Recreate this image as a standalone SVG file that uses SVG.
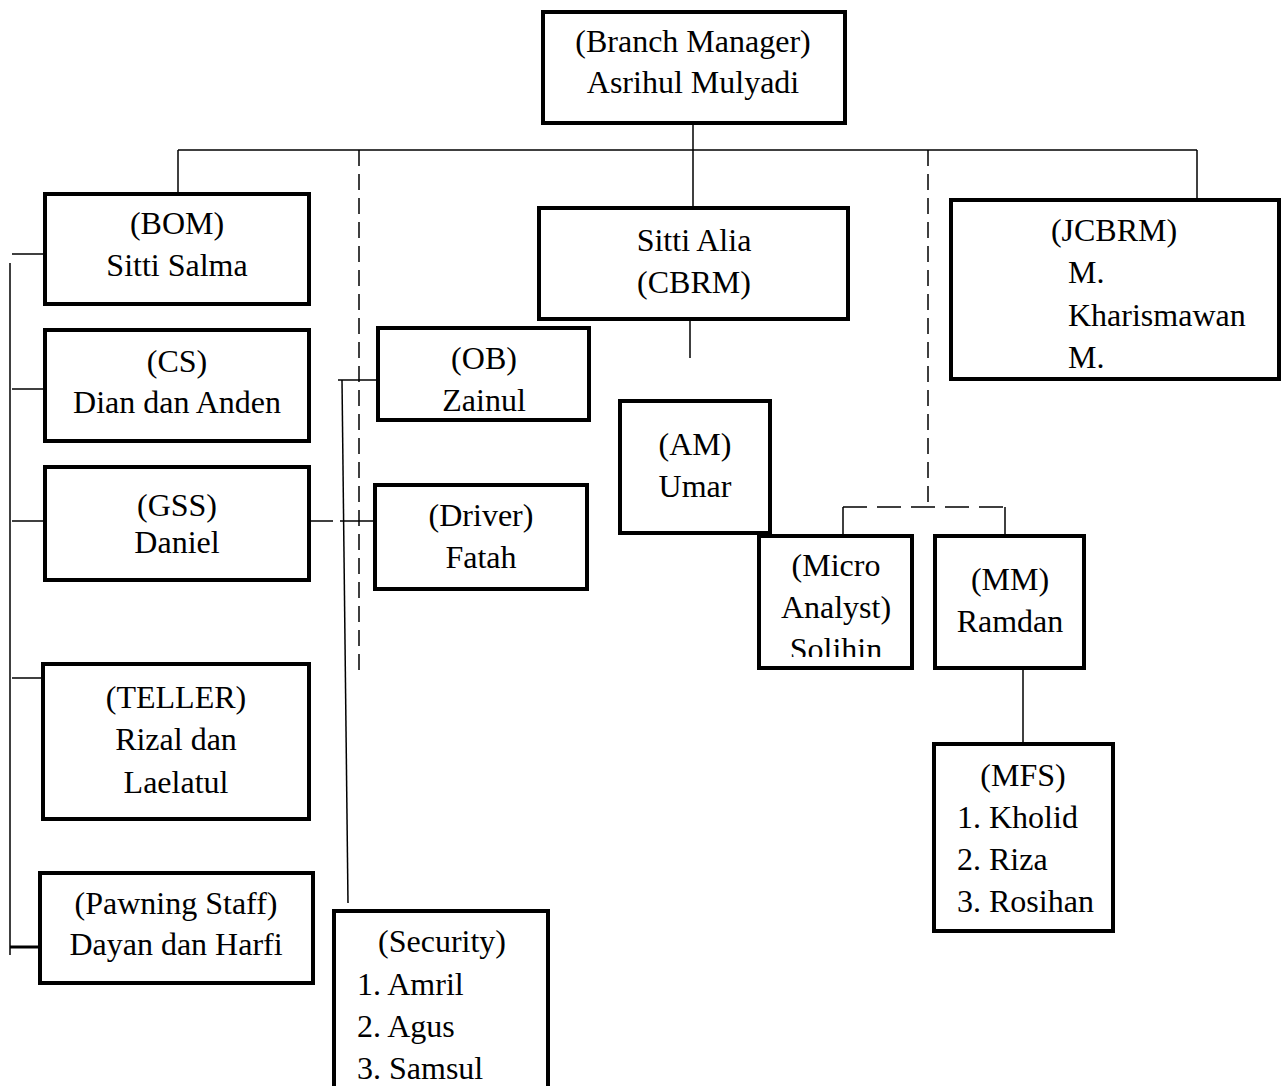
<svg xmlns="http://www.w3.org/2000/svg" width="1288" height="1086" viewBox="0 0 1288 1086">
<style>
.box{fill:#fff;stroke:#000;stroke-width:4}
.t{font-family:"Liberation Serif","Times New Roman",serif;font-size:32px;fill:#000}
.c{text-anchor:middle}
.ln{stroke:#000;stroke-width:1.5;fill:none}
.dv{stroke:#000;stroke-width:1.5;fill:none;stroke-dasharray:16 8}
.dh{stroke:#000;stroke-width:1.5;fill:none;stroke-dasharray:24 10}
</style>
<defs>
<clipPath id="clipOB"><rect x="376" y="326" width="215" height="85"/></clipPath>
<clipPath id="clipMA"><rect x="757" y="534" width="157" height="123"/></clipPath>
</defs>
<rect width="1288" height="1086" fill="#fff"/>
<g id="connectors">
<line class="ln" x1="693" y1="125" x2="693" y2="150"/>
<line class="ln" x1="178" y1="150" x2="1197" y2="150"/>
<line class="ln" x1="178" y1="150" x2="178" y2="192"/>
<line class="ln" x1="693" y1="150" x2="693" y2="206"/>
<line class="ln" x1="1197" y1="150" x2="1197" y2="198"/>
<line class="dv" x1="359" y1="150" x2="359" y2="675"/>
<line class="dv" x1="928" y1="150" x2="928" y2="507"/>
<line class="dh" x1="843" y1="507" x2="1005" y2="507"/>
<line class="ln" x1="843" y1="507" x2="843" y2="534"/>
<line class="ln" x1="1005" y1="507" x2="1005" y2="534"/>
<line class="ln" x1="690" y1="310" x2="690" y2="358"/>
<line class="ln" x1="1023" y1="670" x2="1023" y2="742"/>
<line class="ln" x1="10" y1="263" x2="10" y2="955"/>
<line class="ln" x1="12" y1="254" x2="43" y2="254"/>
<line class="ln" x1="12" y1="389" x2="43" y2="389"/>
<line class="ln" x1="12" y1="521" x2="43" y2="521"/>
<line class="ln" x1="12" y1="678" x2="41" y2="678"/>
<line stroke="#000" stroke-width="3" x1="10" y1="947" x2="38" y2="947"/>
<line class="ln" x1="311" y1="521" x2="333" y2="521"/>
<line class="ln" x1="340" y1="521" x2="373" y2="521"/>
<line class="ln" x1="338" y1="380" x2="376" y2="380"/>
<line class="ln" x1="342" y1="380" x2="348" y2="903"/>
</g>
<g id="branch-manager">
<rect class="box" x="543" y="12" width="302" height="111"/>
<text class="t c" x="693" y="52">(Branch Manager)</text>
<text class="t c" x="693" y="93">Asrihul Mulyadi</text>
</g>
<g id="bom">
<rect class="box" x="45" y="194" width="264" height="110"/>
<text class="t c" x="177" y="234">(BOM)</text>
<text class="t c" x="177" y="276">Sitti Salma</text>
</g>
<g id="cs">
<rect class="box" x="45" y="330" width="264" height="111"/>
<text class="t c" x="177" y="372">(CS)</text>
<text class="t c" x="177" y="413">Dian dan Anden</text>
</g>
<g id="gss">
<rect class="box" x="45" y="467" width="264" height="113"/>
<text class="t c" x="177" y="516">(GSS)</text>
<text class="t c" x="177" y="553">Daniel</text>
</g>
<g id="teller">
<rect class="box" x="43" y="664" width="266" height="155"/>
<text class="t c" x="176" y="708">(TELLER)</text>
<text class="t c" x="176" y="750">Rizal dan</text>
<text class="t c" x="176" y="793">Laelatul</text>
</g>
<g id="pawning">
<rect class="box" x="40" y="873" width="273" height="110"/>
<text class="t c" x="176" y="914">(Pawning Staff)</text>
<text class="t c" x="176" y="955">Dayan dan Harfi</text>
</g>
<g id="ob">
<rect class="box" x="378" y="328" width="211" height="92"/>
<g clip-path="url(#clipOB)">
<text class="t c" x="484" y="369">(OB)</text>
<text class="t c" x="484" y="411">Zainul</text>
</g>
</g>
<g id="driver">
<rect class="box" x="375" y="485" width="212" height="104"/>
<text class="t c" x="481" y="526">(Driver)</text>
<text class="t c" x="481" y="568">Fatah</text>
</g>
<g id="security">
<rect class="box" x="334" y="911" width="214" height="200"/>
<text class="t c" x="442" y="952">(Security)</text>
<text class="t" x="357" y="995">1. Amril</text>
<text class="t" x="357" y="1037">2. Agus</text>
<text class="t" x="357" y="1079">3. Samsul</text>
</g>
<g id="cbrm">
<rect class="box" x="539" y="208" width="309" height="111"/>
<text class="t c" x="694" y="251">Sitti Alia</text>
<text class="t c" x="694" y="293">(CBRM)</text>
</g>
<g id="am">
<rect class="box" x="620" y="401" width="150" height="132"/>
<text class="t c" x="695" y="455">(AM)</text>
<text class="t c" x="695" y="497">Umar</text>
</g>
<g id="micro-analyst">
<rect class="box" x="759" y="536" width="153" height="132"/>
<g clip-path="url(#clipMA)">
<text class="t c" x="836" y="576">(Micro</text>
<text class="t c" x="836" y="618">Analyst)</text>
<text class="t c" x="836" y="660">Solihin</text>
</g>
</g>
<g id="mm">
<rect class="box" x="935" y="536" width="149" height="132"/>
<text class="t c" x="1010" y="590">(MM)</text>
<text class="t c" x="1010" y="632">Ramdan</text>
</g>
<g id="mfs">
<rect class="box" x="934" y="744" width="179" height="187"/>
<text class="t c" x="1023" y="786">(MFS)</text>
<text class="t" x="957" y="828">1. Kholid</text>
<text class="t" x="957" y="870">2. Riza</text>
<text class="t" x="957" y="912">3. Rosihan</text>
</g>
<g id="jcbrm">
<rect class="box" x="951" y="200" width="328" height="179"/>
<text class="t c" x="1114" y="241">(JCBRM)</text>
<text class="t" x="1068" y="283">M.</text>
<text class="t" x="1068" y="326">Kharismawan</text>
<text class="t" x="1068" y="368">M.</text>
</g>
</svg>
